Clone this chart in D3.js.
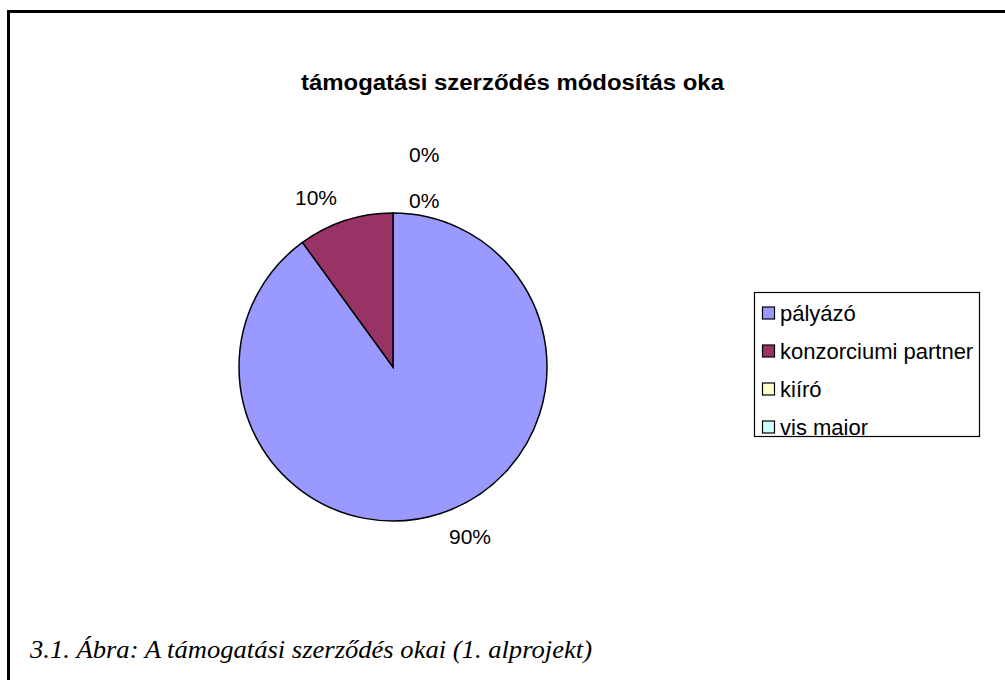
<!DOCTYPE html>
<html lang="hu">
<head>
  <meta charset="UTF-8">
  <title>támogatási szerződés módosítás oka</title>
  <script src="https://d3js.org/d3.v7.min.js"></script>
  <style>
    html, body { margin: 0; padding: 0; background: #fff; }
    svg { display: block; }
  </style>
</head>
<body>
  <div id="chart"></div>
  <script>
    // Chart data
    const categories = ["pályázó", "konzorciumi partner", "kiíró", "vis maior"];
    const values = [90, 10, 0, 0];
    const colors = ["#9999FF", "#993366", "#FFFFCC", "#CCFFFF"];
    const title = "támogatási szerződés módosítás oka";
    const caption = "3.1. Ábra: A támogatási szerződés okai (1. alprojekt)";

    const width = 1005, height = 680;
    const sans = "Liberation Sans, Arial, sans-serif";
    const svg = d3.select("#chart").append("svg")
      .attr("width", width)
      .attr("height", height);

    // Frame (only left and top edges are visible)
    svg.append("path")
      .attr("d", "M8.5,680 L8.5,11.5 L1005,11.5")
      .attr("fill", "none")
      .attr("stroke", "#000")
      .attr("stroke-width", 3);

    svg.append("text")
      .attr("x", 301)
      .attr("y", 90)
      .attr("font-family", sans)
      .attr("font-weight", "bold")
      .attr("font-size", "22px")
      .attr("textLength", 423)
      .attr("lengthAdjust", "spacingAndGlyphs")
      .text(title);

    // Pie
    const cx = 393, cy = 367, radius = 154;
    const g = svg.append("g").attr("transform", `translate(${cx},${cy})`);

    const pie = d3.pie().sort(null).value(d => d.value);
    const data = categories.map((c, i) => ({ name: c, value: values[i], color: colors[i] }));
    const arcs = pie(data);
    const arc = d3.arc().innerRadius(0).outerRadius(radius);
    const labelArc = d3.arc().innerRadius(radius + 24).outerRadius(radius + 24);
    const total = d3.sum(values);

    g.selectAll("path.slice")
      .data(arcs.filter(d => d.value > 0))
      .enter().append("path")
      .attr("class", "slice")
      .attr("d", arc)
      .attr("fill", d => d.data.color)
      .attr("stroke", "#000")
      .attr("stroke-width", 1.5);

    // Labels: outside, pushed sideways; zero slices stacked above the top
    let zeroCount = 0;
    g.selectAll("text.lbl")
      .data(arcs)
      .enter().append("text")
      .attr("class", "lbl")
      .attr("font-family", sans)
      .attr("font-size", "21px")
      .attr("fill", "#000")
      .attr("dy", "0.35em")
      .each(function(d) {
        const t = d3.select(this);
        t.text(Math.round(d.value / total * 100) + "%");
        if (d.value === 0) {
          t.attr("text-anchor", "start")
            .attr("x", 16)
            .attr("y", -(radius + 12) - zeroCount * 46);
          zeroCount++;
        } else {
          const [lx, ly] = labelArc.centroid(d);
          t.attr("text-anchor", "middle")
            .attr("x", lx + Math.sign(lx) * 22)
            .attr("y", ly);
        }
      });

    // Legend
    const legend = svg.append("g").attr("transform", "translate(754,292)");
    legend.append("rect")
      .attr("x", 0.5).attr("y", 0.5)
      .attr("width", 225).attr("height", 144)
      .attr("fill", "#fff")
      .attr("stroke", "#000")
      .attr("stroke-width", 1.2);

    const item = legend.selectAll("g.item")
      .data(data)
      .enter().append("g")
      .attr("class", "item")
      .attr("transform", (d, i) => `translate(8.5,${21 + i * 38})`);

    item.append("rect")
      .attr("x", 0).attr("y", -6)
      .attr("width", 12).attr("height", 12)
      .attr("fill", d => d.color)
      .attr("stroke", "#000")
      .attr("stroke-width", 1.2);

    item.append("text")
      .attr("x", 17.5)
      .attr("dy", "0.35em")
      .attr("font-family", sans)
      .attr("font-size", "22px")
      .text(d => d.name);

    svg.append("text")
      .attr("x", 30)
      .attr("y", 658)
      .attr("font-family", "Liberation Serif, Times New Roman, serif")
      .attr("font-style", "italic")
      .attr("font-size", "25px")
      .attr("textLength", 562)
      .attr("lengthAdjust", "spacingAndGlyphs")
      .text(caption);
  </script>
</body>
</html>
